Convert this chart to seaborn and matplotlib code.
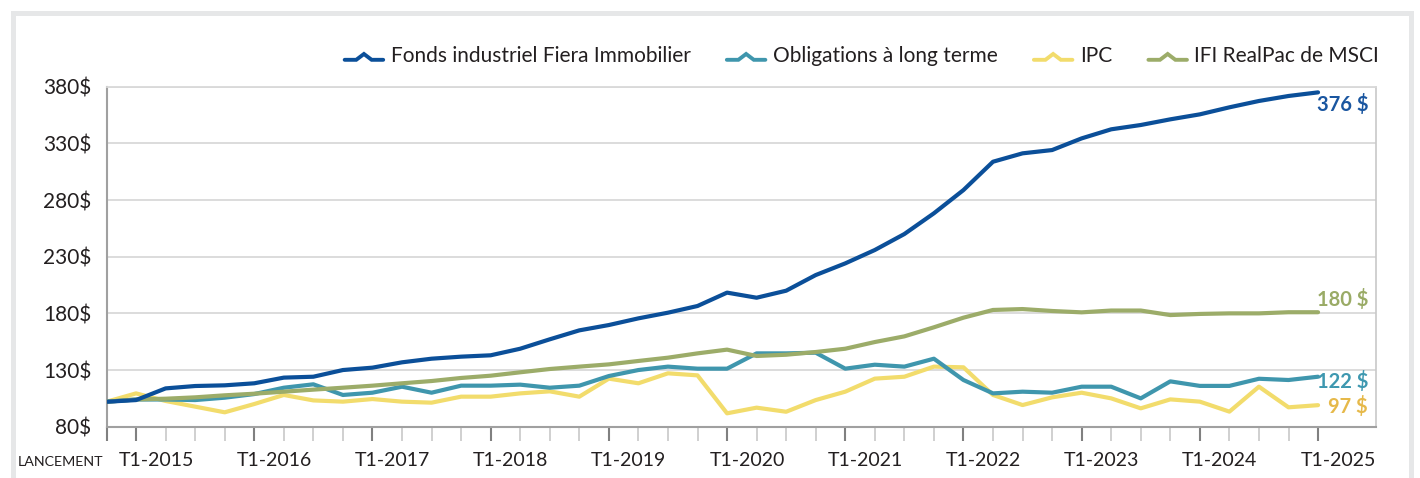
import numpy as np
import pandas as pd
import seaborn as sns
import matplotlib.pyplot as plt
from matplotlib.lines import Line2D
from matplotlib.legend_handler import HandlerBase
from matplotlib.patches import Rectangle
from matplotlib.transforms import ScaledTranslation

# %% data (index = quarter since launch)
fonds = [102, 103.5, 113.8, 115.9, 116.5, 118.3, 123.3, 124.1, 130, 132.1,
         136.8, 140, 141.8, 143, 148.8, 157.1, 165, 169.7, 175.6, 180.6,
         186.5, 198.3, 193.8, 200, 213.8, 224.1, 235.9, 250, 268.3, 288.8,
         313.8, 321.2, 324.1, 334.4, 342.4, 346.2, 351.2, 355.6, 361.8, 367.4,
         371.8, 375]
obligations = [102, 104, 104, 103.5, 105.6, 108.8, 114.4, 117.4, 108, 110,
               115.3, 110, 116.2, 116.2, 117.1, 114.4, 116.2, 124.7, 130, 133,
               131.2, 131.2, 144.7, 144.7, 145.3, 131.2, 134.7, 133, 140, 121.2,
               109.4, 110.9, 110, 115.3, 115.3, 105, 120, 116, 116, 122.3,
               121.2, 124.1]
ipc = [102, 109.4, 102.7, 97.7, 92.7, 100, 108, 103.2, 102.1, 104.4,
       102.1, 101.2, 106.5, 106.5, 109.4, 111.2, 106.5, 122.4, 118.3, 127.1,
       125.3, 91.8, 96.8, 93.2, 103.5, 110.9, 122.4, 124.1, 133, 132.4,
       108, 99.1, 105.9, 110, 105, 96.2, 104.1, 102.1, 93.3, 115.3,
       97.1, 99]
msci = [102, 104.1, 104.7, 105.9, 107.7, 109.1, 110.9, 112.7, 114.4, 116.2,
        118.3, 120.3, 123, 125, 128, 130.9, 133, 135, 138, 140.9,
        144.7, 148, 142.4, 143.5, 145.9, 148.8, 154.7, 159.7, 167.7, 176.2,
        183, 183.8, 182.1, 180.9, 182.5, 182.5, 178.5, 179.5, 180, 180,
        181, 181]

series_names = ["Fonds industriel Fiera Immobilier", "Obligations à long terme",
                "IPC", "IFI RealPac de MSCI"]
end_labels = ["376 $", "180 $", "122 $", "97 $"]
tick_labels = ["LANCEMENT", "T1-2015", "T1-2016", "T1-2017", "T1-2018", "T1-2019",
               "T1-2020", "T1-2021", "T1-2022", "T1-2023", "T1-2024", "T1-2025"]
y_ticks = [80, 130, 180, 230, 280, 330, 380]

colors = {series_names[0]: "#0b4f99", series_names[1]: "#3f96ad",
          series_names[2]: "#f2dc6c", series_names[3]: "#9cac69"}
label_colors = ["#1a56a0", "#9aab66", "#3e98b0", "#e6b94a"]

# %% long form
n = len(fonds)
df = pd.concat([
    pd.DataFrame({"t": np.arange(n), "valeur": vals, "serie": name})
    for name, vals in zip(series_names, [fonds, obligations, ipc, msci])
])

sns.set_theme(style="white")
plt.rcParams["font.family"] = ["Lato", "DejaVu Sans"]

fig = plt.figure(figsize=(14.2, 4.78), dpi=100)
ax = fig.add_axes([106.5 / 1420, 1 - 426.7 / 478, (1376 - 106.5) / 1420, (426.7 - 86.7) / 478])

# draw order: yellow, teal, green, blue on top
draw_order = [series_names[2], series_names[1], series_names[3], series_names[0]]
for name in draw_order:
    sns.lineplot(data=df[df.serie == name], x="t", y="valeur", color=colors[name],
                 lw=3, ax=ax, legend=False, solid_joinstyle="round", solid_capstyle="round",
                 zorder=3)

ax.set_xlim(0, (1376 - 106.5) / 29.55)
ax.set_ylim(80, 380)
ax.set_xlabel("")
ax.set_ylabel("")

# y axis
ax.set_yticks(y_ticks)
ax.set_yticklabels([f"{v}$" for v in y_ticks])
ax.yaxis.grid(True, color="#d9d9d9", lw=1.3, zorder=0)
ax.tick_params(axis="y", length=0, pad=11, labelsize=15, labelcolor="#231f20")

# x axis
ax.set_xticks(np.arange(n), minor=True)
ax.set_xticks([0] + list(range(1, n, 4)))
ax.set_xticklabels(tick_labels)
ax.tick_params(axis="x", which="minor", bottom=True, length=10, width=1.2,
               color="#c8c8c8", direction="out")
ax.tick_params(axis="x", which="major", bottom=True, length=10, width=1.5,
               color="#808080", direction="out", pad=18, labelsize=14,
               labelcolor="#231f20")
xlabs = ax.get_xticklabels()
for i, lab in enumerate(xlabs):
    lab.set_va("baseline")
    # quarter labels sit a little right of their tick, as in the source
    shift = -3 if i == 0 else 20
    lab.set_transform(lab.get_transform() + ScaledTranslation(shift / 100, 0, fig.dpi_scale_trans))
xlabs[0].set_fontsize(10.3)
xlabs[0].set_ha("right")

for side in ["left", "bottom"]:
    ax.spines[side].set_color("#a0a0a0")
    ax.spines[side].set_linewidth(1.5)
ax.spines["right"].set_color("#c8c8c8")
ax.spines["right"].set_linewidth(1.2)
ax.spines["top"].set_color("#d9d9d9")
ax.spines["top"].set_linewidth(1.3)

# end labels
ends = [fonds[-1], msci[-1], obligations[-1], ipc[-1]]
offsets = [-8.6, 9.4, -3.7, -1.2]
for val, txt, col, dy in zip(ends, end_labels, label_colors, offsets):
    ax.annotate(txt, xy=(n - 1, val), xytext=(36, dy), textcoords="offset points",
                ha="right", va="center", fontsize=14.5, fontweight="bold", color=col)


# legend with chevron handles
class ChevronHandler(HandlerBase):
    def create_artists(self, legend, orig_handle, xdescent, ydescent, width, height,
                       fontsize, trans):
        x = np.array([0, 0.3, 0.5, 0.7, 1]) * width - xdescent
        y = np.array([0.15, 0.15, 0.55, 0.15, 0.15]) * height - ydescent
        line = Line2D(x, y, color=orig_handle.get_color(), lw=2.8,
                      solid_joinstyle="miter", transform=trans)
        return [line]


handles = [Line2D([], [], color=colors[name]) for name in series_names]
fig.legend(handles, series_names, handler_map={Line2D: ChevronHandler()},
           loc="center right", bbox_to_anchor=(1379 / 1420, 1 - 56 / 478),
           ncol=4, frameon=False, fontsize=15, handlelength=1.85, handletextpad=0.35,
           columnspacing=1.75, borderpad=0, borderaxespad=0, labelcolor="#231f20")

# outer frame
fig.patches.append(Rectangle((12.5 / 1420, -0.05), (1410.5 - 12.5) / 1420,
                             (478 - 12.5) / 478 + 0.05, transform=fig.transFigure,
                             fill=False, edgecolor="#e6e7e8", lw=3.6))

fig.savefig("out.png", dpi=100)
